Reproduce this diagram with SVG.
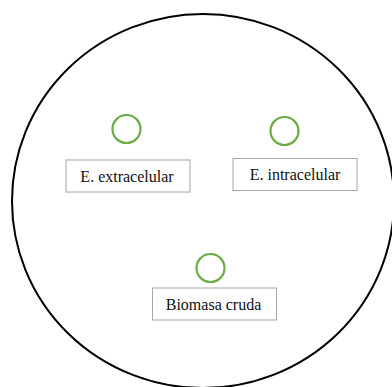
<svg xmlns="http://www.w3.org/2000/svg" width="392" height="387" viewBox="0 0 392 387">
<style>
.outer{fill:none;stroke:#000;stroke-width:2}
.dot{fill:none;stroke:#6aab45;stroke-width:2.2}
.box{fill:#fff;stroke:#a6a6a6;stroke-width:1}
.lbl{font-size:16px;fill:#111;text-anchor:middle}
</style>
<rect width="392" height="387" fill="#fff"/>
<ellipse id="cell" class="outer" cx="203" cy="201" rx="191" ry="187"/>
<g id="extracelular">
<circle class="dot" cx="126.5" cy="129" r="14"/>
<rect class="box" x="66" y="160" width="124" height="32"/>
<text class="lbl" x="127" y="181.5" font-family="Liberation Serif, serif">E. extracelular</text>
</g>
<g id="intracelular">
<circle class="dot" cx="284.5" cy="131" r="14"/>
<rect class="box" x="233" y="158.5" width="124" height="32"/>
<text class="lbl" x="295" y="179.5" font-family="Liberation Serif, serif">E. intracelular</text>
</g>
<g id="biomasa">
<circle class="dot" cx="210.5" cy="268" r="14"/>
<rect class="box" x="152.5" y="288" width="124" height="32"/>
<text class="lbl" x="213.5" y="309.5" font-family="Liberation Serif, serif">Biomasa cruda</text>
</g>
<g id="connectors"/>
</svg>
